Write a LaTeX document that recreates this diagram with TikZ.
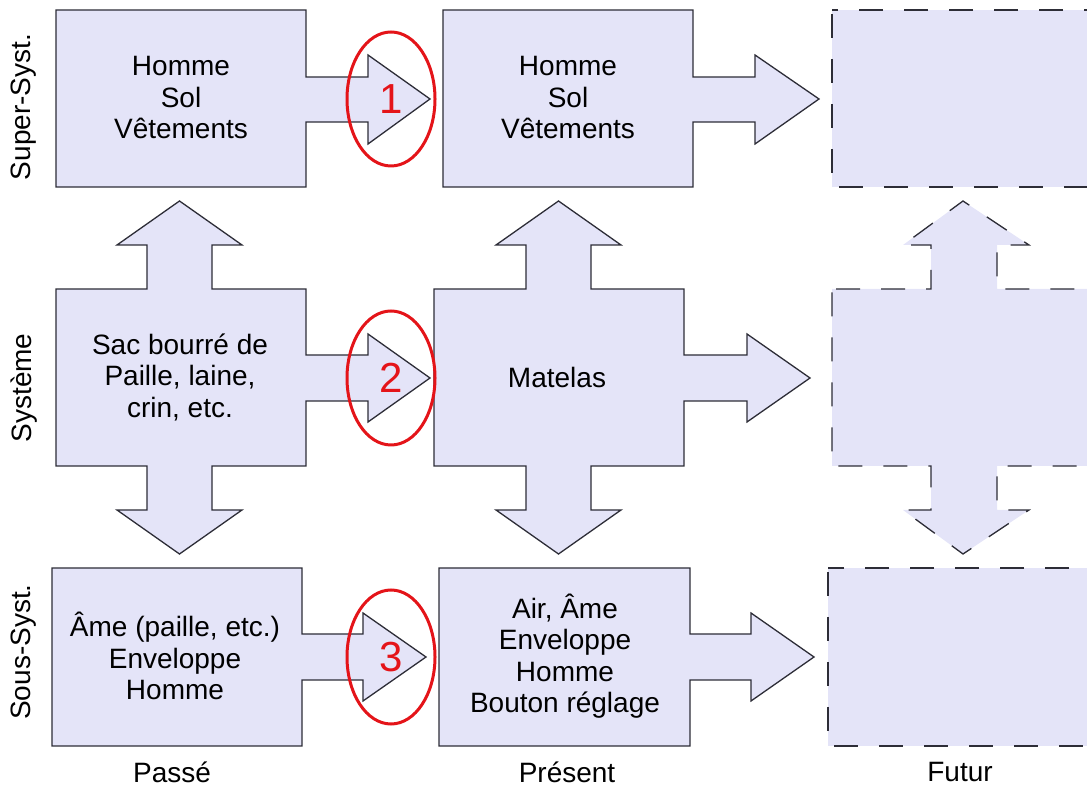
\documentclass[tikz,border=0pt]{standalone}
\usepackage{fontspec}
\setmainfont{Liberation Sans}
\usepackage{xcolor}
\usepackage{tikz}
\usetikzlibrary{shapes.geometric}
\definecolor{lav}{RGB}{228,228,248}
\definecolor{edge}{RGB}{45,45,55}
\definecolor{ringred}{RGB}{228,20,25}
\tikzset{basic/.style={font=\fontsize{28}{31.5}\selectfont, align=center}}

\begin{document}
\begin{tikzpicture}[x=1pt,y=1pt,
    % styles for clarity
    blk/.style  ={draw=edge, fill=lav, line width=1.3pt, line join=miter},
    fut/.style  ={blk, dash pattern=on 24pt off 21pt, dash phase=-4pt},
    txt/.style  ={basic, text=black},
    ring/.style ={draw=ringred, ellipse, line width=3pt, minimum width=88pt,
                  minimum height=134pt, inner sep=0pt, text=ringred,
                  font=\fontsize{42}{42}\selectfont},
    lbl/.style  ={basic, rotate=90},
    foot/.style ={basic, inner sep=0pt}
  ]
    \useasboundingbox (0,0) rectangle (1087,787);
    \clip (0,0) rectangle (1087,787);

    % passe
    \draw[blk] (56,777) -- (306,777) -- (306,710) -- (368,710) -- (368,732) -- (430,688)
      -- (368,643) -- (368,665) -- (306,665) -- (306,600) -- (56,600) -- cycle;
    \draw[blk] (56,498) -- (147,498) -- (147,542) -- (117,542) -- (179.5,586) -- (242,542)
      -- (212,542) -- (212,498) -- (306,498) -- (306,432) -- (368,432) -- (368,453)
      -- (430,409) -- (368,365) -- (368,386) -- (306,386) -- (306,321) -- (212,321)
      -- (212,277) -- (242,277) -- (179.5,233) -- (117,277) -- (147,277) -- (147,321)
      -- (56,321) -- cycle;
    \draw[blk] (52,219) -- (302,219) -- (302,153) -- (363,153) -- (363,174) -- (426,130)
      -- (363,86) -- (363,107) -- (302,107) -- (302,41) -- (52,41) -- cycle;

    % present
    \draw[blk] (443,777) -- (693,777) -- (693,710) -- (755,710) -- (755,732) -- (819,688)
      -- (755,643) -- (755,665) -- (693,665) -- (693,600) -- (443,600) -- cycle;
    \draw[blk] (434,498) -- (526,498) -- (526,542) -- (496,542) -- (558.5,586) -- (621,542)
      -- (591,542) -- (591,498) -- (684,498) -- (684,432) -- (747,432) -- (747,453)
      -- (810,409) -- (747,365) -- (747,386) -- (684,386) -- (684,321) -- (591,321)
      -- (591,277) -- (621,277) -- (558.5,233) -- (496,277) -- (526,277) -- (526,321)
      -- (434,321) -- cycle;
    \draw[blk] (439,219) -- (690,219) -- (690,153) -- (751,153) -- (751,174) -- (814,130)
      -- (751,86) -- (751,107) -- (690,107) -- (690,41) -- (439,41) -- cycle;

    % futur
    \draw[fut] (832,777) rectangle (1110,600);
    \draw[fut] (832,498) -- (931,498) -- (931,542) -- (903,542) -- (963,586) -- (1029,542)
      -- (997,542) -- (997,498) -- (1110,498) -- (1110,321) -- (997,321) -- (997,277)
      -- (1029,277) -- (963,233) -- (903,277) -- (931,277) -- (931,321) -- (832,321) -- cycle;
    \draw[fut] (828,219) rectangle (1110,41);

    % box texts
    \node[txt] (supP) at (181,689) {Homme\\Sol\\Vêtements};
    \node[txt] (supN) at (568,689) {Homme\\Sol\\Vêtements};
    \node[txt] (sysP) at (180,410) {Sac bourré de\\Paille, laine,\\crin, etc.};
    \node[txt] (sysN) at (557,410) {Matelas};
    \node[txt] (subP) at (175,131) {Âme (paille, etc.)\\Enveloppe\\Homme};
    \node[txt] (subN) at (565,131) {Air, Âme\\Enveloppe\\Homme\\Bouton réglage};

    % red rings
    \node[ring] (r1) at (391,688) {1};
    \node[ring] (r2) at (391,409) {2};
    \node[ring] (r3) at (391,130) {3};

    % axis labels
    \node[lbl] (super) at (24,680) {Super-Syst.};
    \node[lbl] (sys)   at (24,399) {Système};
    \node[lbl] (sous)  at (24,135) {Sous-Syst.};
    \node[foot] (passe)   at (172,15) {Passé};
    \node[foot] (present) at (567,15) {Présent};
    \node[foot] (futur)   at (960,15) {Futur};
  \end{tikzpicture}
\end{document}
